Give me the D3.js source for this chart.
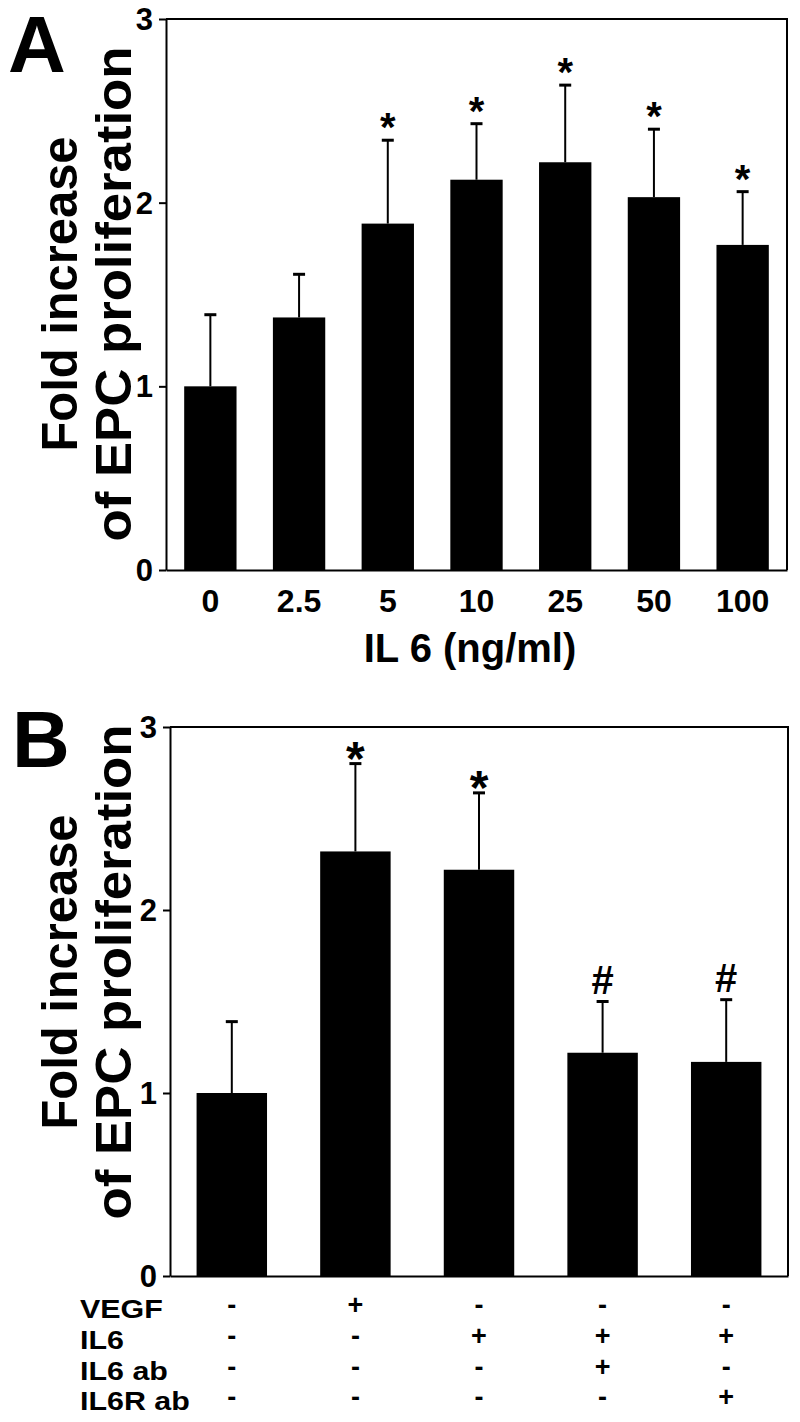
<!DOCTYPE html>
<html>
<head>
<meta charset="utf-8">
<script src="https://cdn.jsdelivr.net/npm/d3@7"></script>
<style>
  body { margin: 0; background: #fff; }
  text { font-family: "Liberation Sans", Arial, sans-serif; font-weight: bold; fill: #000; }
</style>
</head>
<body>
<script>
// panel A: IL6 dose response
var doseLabels = ["0", "2.5", "5", "10", "25", "50", "100"];
var doseMeans  = [1.0, 1.375, 1.886, 2.125, 2.22, 2.03, 1.77];
var doseErr    = [0.39, 0.235, 0.454, 0.305, 0.42, 0.37, 0.29];
var doseMarks  = ["", "", "*", "*", "*", "*", "*"];

// panel B: treatments
var groupIds   = ["g1", "g2", "g3", "g4", "g5"];
var groupMeans = [1.0, 2.32, 2.22, 1.22, 1.17];
var groupErr   = [0.39, 0.48, 0.42, 0.28, 0.34];
var groupMarks = ["", "*", "*", "#", "#"];
var treatRows  = ["VEGF", "IL6", "IL6 ab", "IL6R ab"];
var treatSigns = [
  ["-", "+", "-", "-", "-"],
  ["-", "-", "+", "+", "+"],
  ["-", "-", "-", "+", "-"],
  ["-", "-", "-", "-", "+"]
];

var yTicks = [0, 1, 2, 3];

var width = 800,
    height = 1422;

var svg = d3.select("body").append("svg")
    .attr("width", width)
    .attr("height", height);

svg.append("rect").attr("width", width).attr("height", height).attr("fill", "#fff");

function panel(o) {
  var x = d3.scaleBand()
      .domain(o.cats)
      .range([o.left, o.right])
      .paddingInner(o.pad)
      .paddingOuter(o.pad / 2);

  var y = d3.scaleLinear()
      .domain([0, 3])
      .range([o.bottom, o.top]);

  var g = svg.append("g");
  var rows = o.cats.map(function(c, i) {
    return { cat: c, mean: o.means[i], err: o.errs[i], mark: o.marks[i] };
  });

  // bars
  g.selectAll(".bar")
      .data(rows)
    .enter().append("rect")
      .attr("class", "bar")
      .attr("x", function(d) { return x(d.cat); })
      .attr("y", function(d) { return y(d.mean); })
      .attr("width", x.bandwidth())
      .attr("height", function(d) { return y(0) - y(d.mean); })
      .attr("fill", "#000");

  // error bars (upper only)
  var eb = g.selectAll(".err")
      .data(rows)
    .enter().append("g")
      .attr("class", "err")
      .attr("transform", function(d) { return "translate(" + (x(d.cat) + x.bandwidth() / 2) + ",0)"; });

  eb.append("line")
      .attr("y1", function(d) { return y(d.mean); })
      .attr("y2", function(d) { return y(d.mean + d.err); })
      .attr("stroke", "#000")
      .attr("stroke-width", 2);

  eb.append("line")
      .attr("x1", -6).attr("x2", 6)
      .attr("y1", function(d) { return y(d.mean + d.err); })
      .attr("y2", function(d) { return y(d.mean + d.err); })
      .attr("stroke", "#000")
      .attr("stroke-width", 3);

  eb.append("text")
      .attr("text-anchor", "middle")
      .attr("y", function(d) { return y(d.mean + d.err) + (d.mark === "#" ? o.hashDy : o.starDy); })
      .style("font-size", function(d) { return (d.mark === "#" ? o.hashSize : o.starSize) + "px"; })
      .text(function(d) { return d.mark; });

  // frame top + right
  g.append("path")
      .attr("d", "M" + o.left + "," + o.top + "H" + o.right + "V" + o.bottom)
      .attr("fill", "none")
      .attr("stroke", "#000")
      .attr("stroke-width", 2);

  // bottom axis line
  g.append("g")
      .attr("transform", "translate(0," + o.bottom + ")")
      .call(d3.axisBottom(x).tickSize(0).tickFormat(""))
      .call(function(s) { s.select(".domain").attr("stroke-width", 2); });

  // y axis (ticks from d3, labels drawn below)
  var ya = g.append("g")
      .attr("transform", "translate(" + o.left + ",0)")
      .call(d3.axisLeft(y).tickValues(yTicks).tickFormat("").tickSize(7).tickSizeOuter(0));
  ya.select(".domain").attr("stroke-width", 2);
  ya.selectAll(".tick line").attr("stroke-width", 2);

  g.append("g").selectAll(".ylab")
      .data(yTicks)
    .enter().append("text")
      .attr("class", "ylab")
      .attr("x", o.left - 13)
      .attr("y", function(d) { return y(d) + 11; })
      .attr("text-anchor", "end")
      .attr("font-size", 31)
      .text(function(d) { return d; });

  // y title, two lines
  var mid = o.titleMid;
  g.append("text")
      .attr("transform", "translate(77," + mid + ") rotate(-90)")
      .attr("text-anchor", "middle")
      .attr("textLength", 315)
      .attr("lengthAdjust", "spacingAndGlyphs")
      .style("font-size", "50px")
      .text("Fold increase");
  g.append("text")
      .attr("transform", "translate(131," + mid + ") rotate(-90)")
      .attr("text-anchor", "middle")
      .attr("textLength", 495)
      .attr("lengthAdjust", "spacingAndGlyphs")
      .style("font-size", "50px")
      .text("of EPC proliferation");

  return x;
}

// ---- panel A
var xA = panel({
  cats: doseLabels, means: doseMeans, errs: doseErr, marks: doseMarks,
  left: 166, right: 787, top: 19, bottom: 570, pad: 0.41,
  starSize: 40, starDy: 1, hashSize: 36, hashDy: -8,
  titleMid: 294
});

svg.append("g").selectAll("text")
    .data(doseLabels)
  .enter().append("text")
    .attr("x", function(d) { return xA(d) + xA.bandwidth() / 2; })
    .attr("y", 612)
    .attr("text-anchor", "middle")
    .style("font-size", "32px")
    .text(function(d) { return d; });

svg.append("text")
    .attr("x", 470)
    .attr("y", 662)
    .attr("text-anchor", "middle")
    .style("font-size", "40px")
    .text("IL 6 (ng/ml)");

svg.append("text")
    .attr("x", 8).attr("y", 72)
    .style("font-size", "80px")
    .text("A");

// ---- panel B
var xB = panel({
  cats: groupIds, means: groupMeans, errs: groupErr, marks: groupMarks,
  left: 170, right: 788, top: 727, bottom: 1276, pad: 0.43,
  starSize: 48, starDy: 11, hashSize: 40, hashDy: -8,
  titleMid: 972
});

svg.append("text")
    .attr("x", 12).attr("y", 767)
    .style("font-size", "80px")
    .text("B");

var rowY = [1318, 1349, 1380, 1410];

var tr = svg.append("g").selectAll(".trow")
    .data(treatRows)
  .enter().append("g")
    .attr("class", "trow");

// row labels: small font, widened to the reference width
tr.append("text")
    .attr("x", 80)
    .attr("y", function(d, i) { return rowY[i]; })
    .style("font-size", "26px")
    .text(function(d) { return d; })
    .each(function() {
      var w = this.getComputedTextLength();
      d3.select(this).attr("textLength", w * 1.17).attr("lengthAdjust", "spacingAndGlyphs");
    });

tr.selectAll(".sign")
    .data(function(d, i) { return treatSigns[i].map(function(s) { return { s: s, row: i }; }); })
  .enter().append("text")
    .attr("class", "sign")
    .attr("x", function(d, j) { return xB(groupIds[j]) + xB.bandwidth() / 2; })
    .attr("y", function(d) { return rowY[d.row] - 4; })
    .attr("text-anchor", "middle")
    .style("font-size", "27px")
    .text(function(d) { return d.s; });
</script>
</body>
</html>
